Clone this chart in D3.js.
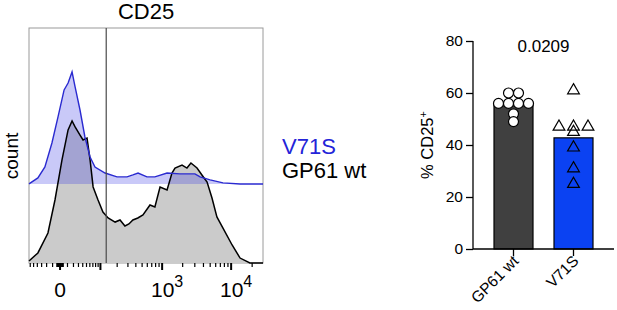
<!DOCTYPE html>
<html>
<head>
<meta charset="utf-8">
<script src="https://cdn.jsdelivr.net/npm/d3@7"></script>
<style>
  body { margin: 0; background: #fff; }
  svg { display: block; font-family: "Liberation Sans", Arial, sans-serif; }
</style>
</head>
<body>
<script>
// ---- histogram data (channel 0-100 across the display axis, count in % of mode) ----
const wtChannel = [0, 3.8, 8.1, 11.1, 14.1, 16.7, 18.4, 19.7, 21.8, 23.1, 24.8, 26.1, 27.4, 29.5, 31.6, 33.8,
  36.8, 38.9, 41, 42.7, 44.4, 46.5, 48.7, 51.7, 53.8, 56, 59, 61.1, 62.4, 65.4, 67.5, 69.2, 71.8, 73.9,
  76.1, 78.2, 80.3, 82.9, 86.8, 90.2, 94.4, 100];
const wtCount = [1.3, 6.7, 20, 42, 68.7, 88.7, 94.7, 90.7, 85.3, 82, 83.3, 68.7, 50.7, 42, 34, 30,
  27.3, 28.7, 24.7, 26, 28.7, 30, 32, 38.7, 37.3, 50.7, 48.7, 60, 63.3, 65.3, 63.3, 66.7, 63.3, 58.7,
  54, 43.3, 30.7, 23.3, 12, 3.3, 0, 0];

const v71sChannel = [0, 3.8, 6.8, 9.8, 12.4, 15, 16.7, 18.4, 19.7, 21.8, 23.9, 26.1, 28.2, 32.5, 37.6,
  41.9, 44.4, 46.6, 50.4, 53.8, 59, 64.5, 70.9, 73.1, 77.4, 82.9, 90.2, 100];
const v71sCount = [0, 4, 11.3, 27.3, 44.7, 62.7, 67.3, 74.7, 64.7, 49.3, 31.3, 18, 11.3, 7.3, 4.7,
  4.7, 6, 7.3, 4.7, 4.7, 7.3, 6.7, 6.7, 4.7, 2.7, 0.7, 0, 0];
const v71sOffset = 52.7;
const gateChannel = 33;

// axis ticks (fluorescence values, biexponential-like display)
const majorTicks = [0, 100, 1000, 10000];
const minorTicks = [-60, -50, -40, -30, -20, -10, -4, -3, -2, -1, 1, 2, 3, 4,
  10, 20, 30, 40, 50, 60, 70, 80, 90,
  200, 300, 400, 500, 600, 700, 800, 900,
  2000, 3000, 4000, 5000, 6000, 7000, 8000, 9000, 20000];
const labelTicks = [0, 1000, 10000];

// ---- bar chart data ----
const groups = ['GP61 wt', 'V71S'];
const wtValues = [60, 60, 56, 56, 56, 56, 52, 49];
const v71sValues = [61, 47, 47, 47, 45, 39, 31, 25];
const yTicks = [0, 20, 40, 60, 80];
const pValue = '0.0209';

const width = 617;
const height = 310;

const svg = d3.select('body')
  .append('svg')
  .attr('width', width)
  .attr('height', height);

renderHistogram();
renderBars();

function renderHistogram() {
  const left = 29, right = 263, top = 28, bottom = 263;

  const histX = d3.scaleLinear().domain([0, 100]).range([left, right]);
  const histY = d3.scaleLinear().domain([0, 100]).range([bottom, 113]);
  const fluo = d3.scaleSymlog().constant(36).domain([-64, 28600]).range([left, right]);

  const g = svg.append('g').attr('class', 'hist');

  g.append('text')
    .attr('x', (left + right) / 2)
    .attr('y', 19)
    .attr('text-anchor', 'middle')
    .attr('font-size', 22)
    .text('CD25');

  g.append('rect')
    .attr('x', left).attr('y', top)
    .attr('width', right - left).attr('height', bottom - top)
    .attr('fill', 'none')
    .attr('stroke', '#9a9a9a')
    .attr('stroke-width', 1);

  const wt = wtChannel.map((c, i) => [c, wtCount[i]]);
  const v71s = v71sChannel.map((c, i) => [c, v71sCount[i] + v71sOffset]);

  const area = d3.area()
    .x(d => histX(d[0]))
    .y1(d => histY(d[1]));
  const line = d3.line()
    .x(d => histX(d[0]))
    .y(d => histY(d[1]));

  g.append('path')
    .attr('d', area.y0(histY(0))(wt))
    .attr('fill', '#cbcbcb');

  g.append('path')
    .attr('d', area.y0(histY(v71sOffset))(v71s))
    .attr('fill', 'rgba(60,60,230,0.28)');

  g.append('path')
    .attr('d', line(wt))
    .attr('fill', 'none')
    .attr('stroke', '#000')
    .attr('stroke-width', 1.5);

  g.append('path')
    .attr('d', line(v71s))
    .attr('fill', 'none')
    .attr('stroke', '#2a2ad0')
    .attr('stroke-width', 1.4);

  // gate
  g.append('line')
    .attr('x1', histX(gateChannel)).attr('x2', histX(gateChannel))
    .attr('y1', top).attr('y2', bottom)
    .attr('stroke', '#4a4a4a')
    .attr('stroke-width', 1.2);

  // ticks
  g.selectAll('line.minor')
    .data(minorTicks)
    .enter().append('line')
    .attr('class', 'minor')
    .attr('x1', d => fluo(d)).attr('x2', d => fluo(d))
    .attr('y1', bottom).attr('y2', bottom + 4)
    .attr('stroke', '#000').attr('stroke-width', 1.2);

  g.selectAll('line.major')
    .data(majorTicks)
    .enter().append('line')
    .attr('class', 'major')
    .attr('x1', d => fluo(d)).attr('x2', d => fluo(d))
    .attr('y1', bottom).attr('y2', bottom + 7)
    .attr('stroke', '#000').attr('stroke-width', 2);

  const labels = g.selectAll('text.tick')
    .data(labelTicks)
    .enter().append('text')
    .attr('class', 'tick')
    .attr('x', d => fluo(d) + (d === 0 ? 0 : 5))
    .attr('y', 297)
    .attr('text-anchor', 'middle')
    .attr('font-size', 21);
  labels.each(function (d) {
    const t = d3.select(this);
    if (d === 0) {
      t.text('0');
    } else {
      t.append('tspan').text('10');
      t.append('tspan')
        .attr('dy', -10)
        .attr('font-size', 16)
        .text(Math.round(Math.log10(d)));
    }
  });

  g.append('text')
    .attr('transform', 'translate(18,156) rotate(-90)')
    .attr('text-anchor', 'middle')
    .attr('font-size', 19)
    .text('count');

  // legend
  g.append('text')
    .attr('x', 282).attr('y', 154)
    .attr('font-size', 22)
    .attr('fill', '#2424d8')
    .text('V71S');
  g.append('text')
    .attr('x', 282).attr('y', 178)
    .attr('font-size', 22)
    .attr('fill', '#000')
    .text('GP61 wt');
}

// spread points that share a value level
function jitter(values, step) {
  const levels = d3.group(values.map((v, i) => ({ v, i })), d => Math.round(d.v / 3));
  const off = new Array(values.length).fill(0);
  levels.forEach(list => {
    list.sort((a, b) => a.v - b.v);
    list.forEach((d, k) => { off[d.i] = (k - (list.length - 1) / 2) * step; });
  });
  return off;
}

function renderBars() {
  const axisLeft = 473, axisRight = 614;
  const x = d3.scalePoint().domain(groups).range([axisLeft, axisRight]).padding(0.675);
  const y = d3.scaleLinear().domain([0, 80]).range([249, 41]);
  const barW = 39;

  const g = svg.append('g').attr('class', 'bars');

  const series = [
    { name: groups[0], values: wtValues, fill: '#404040' },
    { name: groups[1], values: v71sValues, fill: '#0b42f2' }
  ];

  g.selectAll('rect.bar')
    .data(series)
    .enter().append('rect')
    .attr('class', 'bar')
    .attr('x', d => x(d.name) - barW / 2)
    .attr('y', d => y(d3.mean(d.values)))
    .attr('width', barW)
    .attr('height', d => y(0) - y(d3.mean(d.values)))
    .attr('fill', d => d.fill)
    .attr('stroke', '#000')
    .attr('stroke-width', 1.2);

  // y axis
  const yAxis = g.append('g')
    .attr('transform', `translate(${axisLeft},0)`)
    .call(d3.axisLeft(y).tickValues(yTicks).tickSize(7).tickPadding(3));
  yAxis.select('.domain').attr('stroke-width', 1.3).attr('d', `M-0,${y(80)}V${y(0)}`);
  yAxis.selectAll('.tick line').attr('stroke-width', 1.3);
  yAxis.selectAll('.tick text')
    .attr('font-size', 15.5)
    .attr('font-family', '"Liberation Sans", Arial, sans-serif')
    .attr('fill', '#000');

  // x axis
  g.append('line')
    .attr('x1', axisLeft).attr('x2', axisRight)
    .attr('y1', y(0)).attr('y2', y(0))
    .attr('stroke', '#000').attr('stroke-width', 1.3);
  g.selectAll('line.xtick')
    .data(groups)
    .enter().append('line')
    .attr('class', 'xtick')
    .attr('x1', d => x(d)).attr('x2', d => x(d))
    .attr('y1', y(0)).attr('y2', y(0) + 7)
    .attr('stroke', '#000').attr('stroke-width', 1.3);
  g.selectAll('text.xlabel')
    .data(groups)
    .enter().append('text')
    .attr('class', 'xlabel')
    .attr('transform', d => `translate(${x(d) + 6},${y(0) + 13}) rotate(-45)`)
    .attr('text-anchor', 'end')
    .attr('font-size', 15.5)
    .text(d => d);

  // points
  const wtOff = jitter(wtValues, 10);
  g.selectAll('circle.pt')
    .data(wtValues)
    .enter().append('circle')
    .attr('class', 'pt')
    .attr('cx', (d, i) => x(groups[0]) + wtOff[i])
    .attr('cy', d => y(d))
    .attr('r', 5)
    .attr('fill', '#fff')
    .attr('stroke', '#000')
    .attr('stroke-width', 1.2);

  const vOff = jitter(v71sValues, 14.5);
  g.selectAll('path.pt')
    .data(v71sValues)
    .enter().append('path')
    .attr('class', 'pt')
    .attr('d', d3.symbol(d3.symbolTriangle, 60))
    .attr('transform', (d, i) => `translate(${x(groups[1]) + vOff[i]},${y(d)})`)
    .attr('fill', 'none')
    .attr('stroke', '#000')
    .attr('stroke-width', 1.2);

  // p value
  g.append('text')
    .attr('x', (x(groups[0]) + x(groups[1])) / 2)
    .attr('y', 52)
    .attr('text-anchor', 'middle')
    .attr('font-size', 17)
    .text(pValue);

  // y label
  const yl = g.append('text')
    .attr('transform', `translate(433,${y(40)}) rotate(-90)`)
    .attr('text-anchor', 'middle')
    .attr('font-size', 16.5);
  yl.append('tspan').text('% CD25');
  yl.append('tspan').attr('dy', -6).attr('font-size', 11).text('+');
}
</script>
</body>
</html>
